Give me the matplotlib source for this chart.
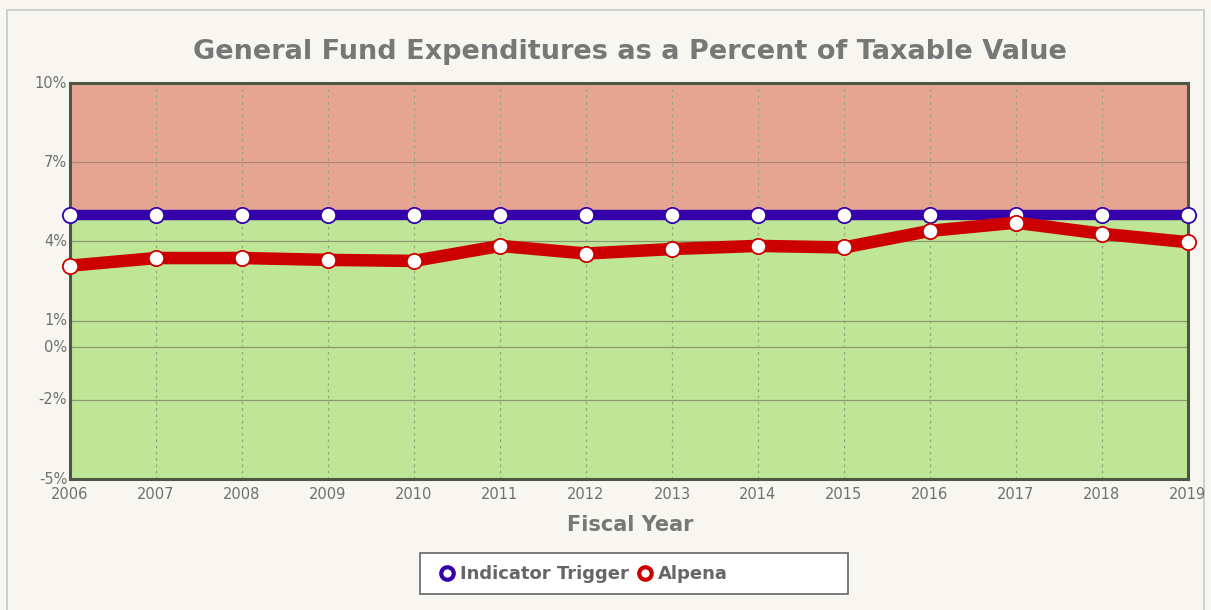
import matplotlib.pyplot as plt
from matplotlib.patches import Rectangle
from matplotlib.lines import Line2D

years = [2006, 2007, 2008, 2009, 2010, 2011, 2012, 2013, 2014, 2015, 2016, 2017, 2018, 2019]
trigger = [5.0] * len(years)
alpena = [3.08, 3.37, 3.37, 3.30, 3.26, 3.83, 3.54, 3.71, 3.83, 3.77, 4.40, 4.71, 4.29, 3.97]
y_ticks = [-5, -2, 0, 1, 4, 7, 10]
y_min, y_max = -5, 10

W, H = 1211, 610
fig = plt.figure(figsize=(W / 100, H / 100), dpi=100, facecolor='#f7f6f1')
# outer panel border
fig.patches.append(Rectangle((7 / W, -0.05), 1197 / W, 1.05 - 10 / H, transform=fig.transFigure,
                             facecolor='none', edgecolor='#c8c8c8', linewidth=1.2, zorder=-5))

ax = fig.add_axes([70 / W, 1 - 479 / H, (1188 - 70) / W, (479 - 83) / H])
ax.set_zorder(2)

# zones: above the trigger is red, below is green
ax.axhspan(trigger[0], y_max, color='#e6a592', zorder=0)
ax.axhspan(y_min, trigger[0], color='#bfe697', zorder=0)

for y in y_ticks:
    ax.axhline(y, color='#8a9a70' if y < trigger[0] else '#b08878', linewidth=0.9, zorder=1)
for x in years:
    ax.axvline(x, color='#8fa87a', linewidth=0.9, linestyle=(0, (2, 3)), zorder=1)

ax.plot(years, trigger, color='#3300aa', linewidth=7.5, zorder=3, solid_capstyle='butt')
ax.plot(years, trigger, linestyle='none', marker='o', markersize=11, markerfacecolor='white',
        markeredgecolor='#3300aa', markeredgewidth=1.3, zorder=4, clip_on=False)
ax.plot(years, alpena, color='#cc0000', linewidth=9, zorder=5, solid_capstyle='butt', solid_joinstyle='round')
ax.plot(years, alpena, linestyle='none', marker='o', markersize=11, markerfacecolor='white',
        markeredgecolor='#cc0000', markeredgewidth=1.3, zorder=6, clip_on=False)

ax.set_xlim(years[0], years[-1])
ax.set_ylim(y_min, y_max)
ax.set_xticks(years)
ax.set_xticklabels([str(y) for y in years])
ax.set_yticks(y_ticks)
ax.set_yticklabels([f'{y}%' for y in y_ticks])
ax.tick_params(length=0, colors='#707070', labelsize=10.5, pad=2)
ax.tick_params(axis='x', pad=6)
for lbl in ax.get_yticklabels():
    lbl.set_verticalalignment('center')
for s in ax.spines.values():
    s.set_color('#4d5545')
    s.set_linewidth(2.2)

fig.text(630 / W, 1 - 52 / H, 'General Fund Expenditures as a Percent of Taxable Value',
         ha='center', va='center', fontsize=19.5, fontweight='bold', color='#777777')
fig.text(630 / W, 1 - 525 / H, 'Fiscal Year', ha='center', va='center',
         fontsize=15, fontweight='bold', color='#777777')

# legend box
fig.patches.append(Rectangle((420 / W, 1 - 594 / H), 428 / W, 41 / H, transform=fig.transFigure,
                             facecolor='white', edgecolor='#666666', linewidth=1.2, zorder=3))
handles = [Line2D([], [], linestyle='none', marker='o', markersize=9, markerfacecolor='white',
                  markeredgecolor='#3300aa', markeredgewidth=3),
           Line2D([], [], linestyle='none', marker='o', markersize=9, markerfacecolor='white',
                  markeredgecolor='#cc0000', markeredgewidth=3)]
leg = fig.legend(handles, ['Indicator Trigger', 'Alpena'], loc='center left',
                 bbox_to_anchor=(424 / W, 1 - 574 / H), ncol=2, frameon=False,
                 handletextpad=0.2, columnspacing=0.4, handlelength=1.0, borderpad=0.3,
                 prop={'weight': 'bold', 'size': 13})
leg.set_zorder(4)
for t in leg.get_texts():
    t.set_color('#666666')

fig.savefig('out.png', dpi=100, facecolor=fig.get_facecolor())
